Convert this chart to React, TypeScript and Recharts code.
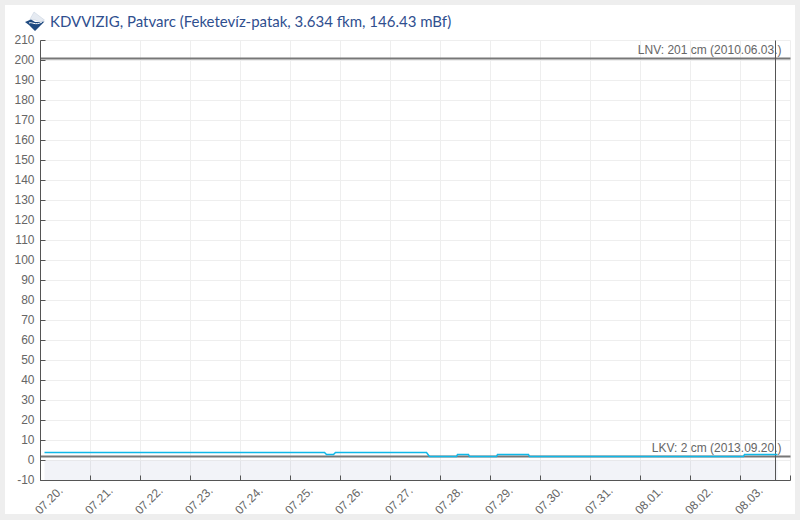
import React from 'react';
import { ComposedChart, Line, Area, XAxis, YAxis, CartesianGrid, ReferenceLine } from 'recharts';

const TITLE = 'KDVVIZIG, Patvarc (Feketevíz-patak, 3.634 fkm, 146.43 mBf)';
const dayLabels = ['07.20.', '07.21.', '07.22.', '07.23.', '07.24.', '07.25.', '07.26.', '07.27.', '07.28.', '07.29.', '07.30.', '07.31.', '08.01.', '08.02.', '08.03.', ''];
const dayTicks = dayLabels.map((_, i) => i);
const levelTicks = [-10, 0, 10, 20, 30, 40, 50, 60, 70, 80, 90, 100, 110, 120, 130, 140, 150, 160, 170, 180, 190, 200, 210];
const dayOffsets = [0.08, 5.68, 5.72, 5.86, 5.9, 7.72, 7.78, 8.32, 8.34, 8.56, 8.58, 9.12, 9.14, 9.76, 9.78, 14.06, 14.08, 14.74];
const waterLevels = [4, 4, 3, 3, 4, 4, 2, 2, 3, 3, 2, 2, 3, 3, 2, 2, 3, 3];
const LNV = 201;
const LKV = 2;
const NOW_DAY = 14.7;

const chartData = dayOffsets.map((d, i) => ({ d, level: waterLevels[i], shade: [-10, 0] }));

const AXIS = '#555555';
const TEXT = '#666666';

const XTick = (p: any) => {
  const { x, y, payload } = p;
  const label = dayLabels[payload.value];
  return (
    <g>
      <line x1={x} x2={x} y1={y} y2={y - 5} stroke={AXIS} />
      {label ? (
        <text x={x + 23} y={y + 11} textAnchor="end" fontSize={12} fontFamily="'Liberation Sans'" fill={TEXT} transform={`rotate(-45 ${x + 23} ${y + 11})`}>
          {label}
        </text>
      ) : null}
    </g>
  );
};

const YTick = (p: any) => {
  const { x, y, payload } = p;
  return (
    <g>
      <line x1={x} x2={x + 5} y1={y} y2={y} stroke={AXIS} />
      <text x={x - 6} y={y + 3} textAnchor="end" fontSize={12} fontFamily="'Liberation Sans'" fill={TEXT}>
        {payload.value}
      </text>
    </g>
  );
};

const refLabel = (text: string) => (p: any) => {
  const { viewBox } = p;
  return (
    <text x={viewBox.x + viewBox.width - 9} y={viewBox.y - 5} textAnchor="end" fontSize={12} fontFamily="'Liberation Sans'" fill="#666666">
      {text}
    </text>
  );
};

const Logo = () => (
  <svg width={22} height={21} viewBox="0 0 22 21" style={{ position: 'absolute', left: 24, top: 11 }}>
    <polygon points="10,1 20.5,9 16,11 10,8.5 5,10" fill="#e6ebf2" stroke="#c5cfdd" strokeWidth={0.5} />
    <polygon points="1,11 7,8.5 11,11 16,11 20.5,10.5 17,14 11,20 5,14" fill="#1f4a80" />
    <path d="M5,12 C8,10.5 11,15 18,11" stroke="#ffffff" strokeWidth={1} fill="none" />
  </svg>
);

export default function App() {
  return (
    <div style={{ position: 'fixed', left: 0, top: 0, width: 800, height: 520, background: '#eeeeee', overflow: 'hidden' }}>
      <div style={{ position: 'absolute', left: 5, top: 5, width: 790, height: 509, background: '#ffffff' }} />
      <Logo />
      <div style={{ position: 'absolute', left: 50, top: 11, fontFamily: 'Lato', fontSize: 15, lineHeight: '20px', color: '#2f4f8f', whiteSpace: 'nowrap' }}>{TITLE}</div>
      <div style={{ position: 'absolute', left: 0, top: 0 }}>
        <ComposedChart width={800} height={520} data={chartData} margin={{ top: 40.5, right: 9.5, bottom: 0, left: 0.5 }}>
          <CartesianGrid stroke="#eeeeee" strokeWidth={1} horizontalValues={levelTicks} verticalValues={dayTicks} />
          <XAxis dataKey="d" type="number" domain={[0, 15]} ticks={dayTicks} interval={0} height={39.5} allowDataOverflow stroke={AXIS} tickLine={false} tickSize={0} tickMargin={0} tick={XTick} />
          <YAxis type="number" domain={[-10, 210]} ticks={levelTicks} interval={0} width={40} allowDataOverflow stroke={AXIS} tickLine={false} tickSize={0} tickMargin={0} tick={YTick} />
          <Area dataKey="shade" type="linear" stroke="none" fill="#3a4a9a" fillOpacity={0.065} isAnimationActive={false} dot={false} activeDot={false} />
          <ReferenceLine y={LNV} stroke="#777777" strokeWidth={2} label={refLabel('LNV: 201 cm (2010.06.03.)')} />
          <ReferenceLine y={LKV} stroke="#777777" strokeWidth={2} label={refLabel('LKV: 2 cm (2013.09.20.)')} />
          <ReferenceLine x={NOW_DAY} stroke="#555555" strokeWidth={1} />
          <Line dataKey="level" type="linear" stroke="#10b8e8" strokeWidth={1.5} dot={false} activeDot={false} isAnimationActive={false} />
        </ComposedChart>
      </div>
    </div>
  );
}
